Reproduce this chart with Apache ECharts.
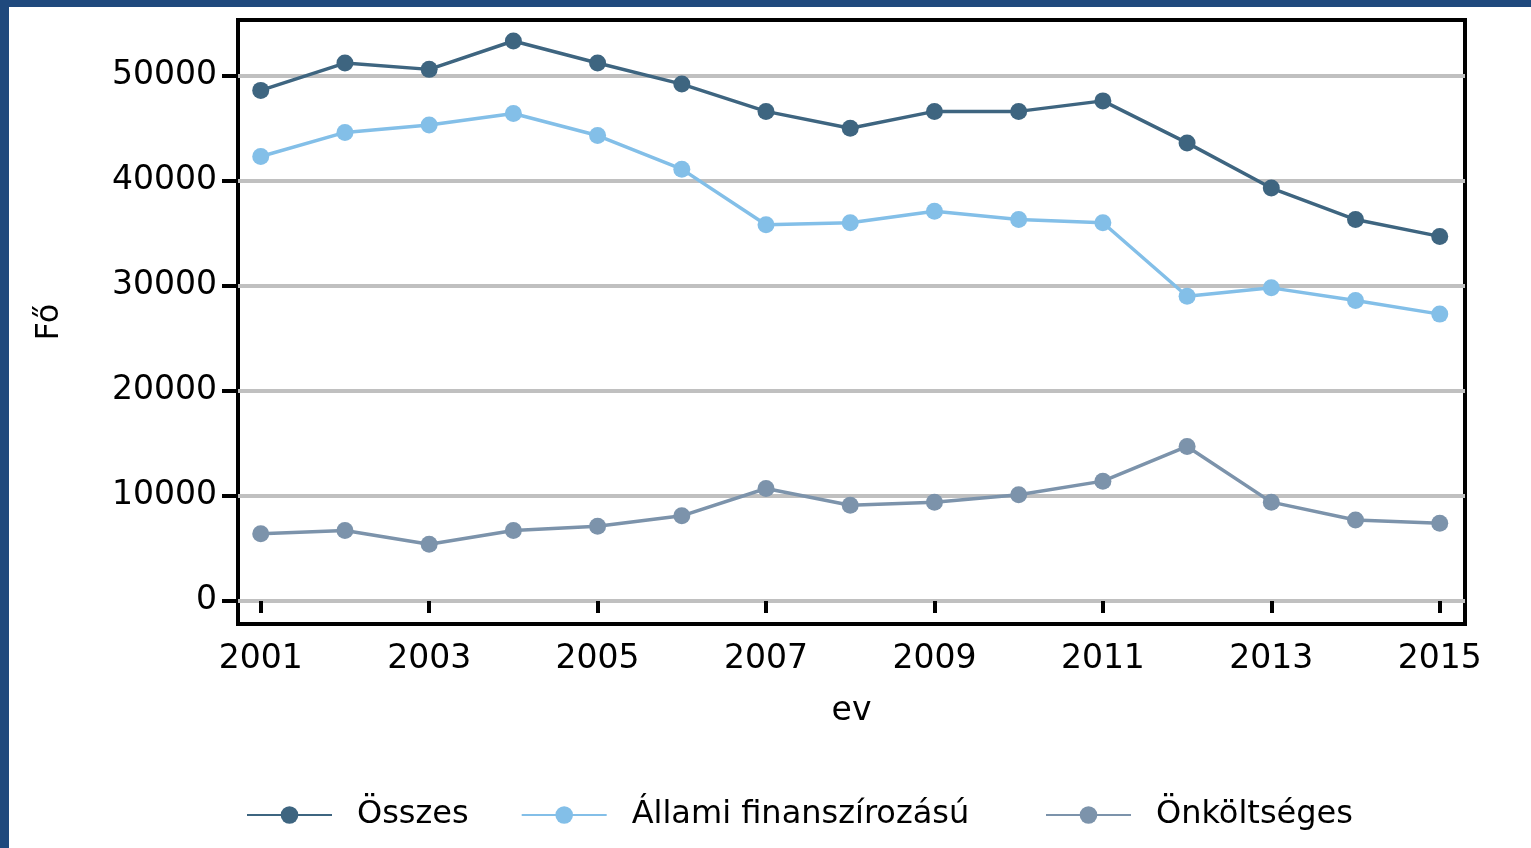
<!DOCTYPE html>
<html>
<head>
<meta charset="utf-8">
<script src="https://cdn.jsdelivr.net/npm/echarts@6/dist/echarts.min.js"></script>
<style>
  html, body { margin: 0; padding: 0; background: #fff; }
  #chart { position: absolute; left: 0; top: 0; width: 1531px; height: 848px; }
  .edge { position: absolute; background: #1f497d; }
</style>
</head>
<body>
<div id="chart"></div>
<div class="edge" style="left:0;top:0;width:1531px;height:7px;"></div>
<div class="edge" style="left:0;top:0;width:9px;height:848px;"></div>
<script>
// adatok
var years = [2001, 2002, 2003, 2004, 2005, 2006, 2007, 2008, 2009, 2010, 2011, 2012, 2013, 2014, 2015];
var osszes = [48600, 51200, 50600, 53300, 51200, 49200, 46600, 45000, 46600, 46600, 47600, 43600, 39300, 36300, 34700];
var allami = [42300, 44600, 45300, 46400, 44300, 41100, 35800, 36000, 37100, 36300, 36000, 29000, 29800, 28600, 27300];
var onkolt = [6400, 6700, 5400, 6700, 7100, 8100, 10700, 9100, 9400, 10100, 11400, 14700, 9400, 7700, 7400];
var xTicks = [2001, 2003, 2005, 2007, 2009, 2011, 2013, 2015];
var yTicks = [0, 10000, 20000, 30000, 40000, 50000];

var font = 'DejaVu Sans';

function pairs(vals) {
    return years.map(function (y, i) { return [y, vals[i]]; });
}

function lineSeries(name, color, vals) {
    return {
        name: name,
        type: 'line',
        data: pairs(vals),
        symbol: 'circle',
        symbolSize: 17,
        lineStyle: { color: color, width: 3.5 },
        itemStyle: { color: color }
    };
}

// a jelmagyarázat két részben, hogy a harmadik elem a helyére kerüljön
function legendPart(left, names) {
    return {
        left: left,
        top: 794,
        itemWidth: 85,
        itemHeight: 22,
        itemGap: 52,
        textStyle: { fontFamily: font, fontSize: 32, color: '#000', padding: [0, 0, 0, 20] },
        data: names
    };
}

var chart = echarts.init(document.getElementById('chart'));
var option = {
    backgroundColor: '#ffffff',
    animation: false,
    grid: {
        show: true,
        left: 238,
        right: 66,
        top: 20,
        bottom: 224,
        borderColor: '#000',
        borderWidth: 4,
        backgroundColor: 'transparent'
    },
    legend: [
        legendPart(241, ['Összes', 'Állami finanszírozású']),
        legendPart(1040, ['Önköltséges'])
    ],
    xAxis: {
        type: 'value',
        min: 2000.73,
        max: 2015.3,
        name: 'ev',
        nameLocation: 'middle',
        nameGap: 71,
        nameTextStyle: { fontFamily: font, fontSize: 33, color: '#000' },
        axisLine: { show: false },
        axisTick: { show: true, customValues: xTicks, length: 12, lineStyle: { color: '#000', width: 4 } },
        axisLabel: {
            customValues: xTicks,
            margin: 19,
            fontFamily: font,
            fontSize: 33,
            color: '#000',
            formatter: function (v) { return String(v); }
        },
        splitLine: { show: false }
    },
    yAxis: {
        type: 'value',
        min: -2200,
        max: 55300,
        name: 'Fő',
        nameLocation: 'middle',
        nameRotate: 90,
        nameGap: 172,
        nameTextStyle: { fontFamily: font, fontSize: 32, color: '#000' },
        axisLine: { show: false },
        axisTick: { show: true, customValues: yTicks, length: 16, lineStyle: { color: '#000', width: 4 } },
        axisLabel: {
            customValues: yTicks,
            margin: 21,
            fontFamily: font,
            fontSize: 33,
            color: '#000',
            formatter: function (v) { return String(v); }
        },
        splitLine: { show: true, lineStyle: { color: '#c0c0c0', width: 4 } }
    },
    series: [
        lineSeries('Összes', '#3e6580', osszes),
        lineSeries('Állami finanszírozású', '#83bfe8', allami),
        lineSeries('Önköltséges', '#7c93ab', onkolt)
    ]
};
chart.setOption(option);
</script>
</body>
</html>
